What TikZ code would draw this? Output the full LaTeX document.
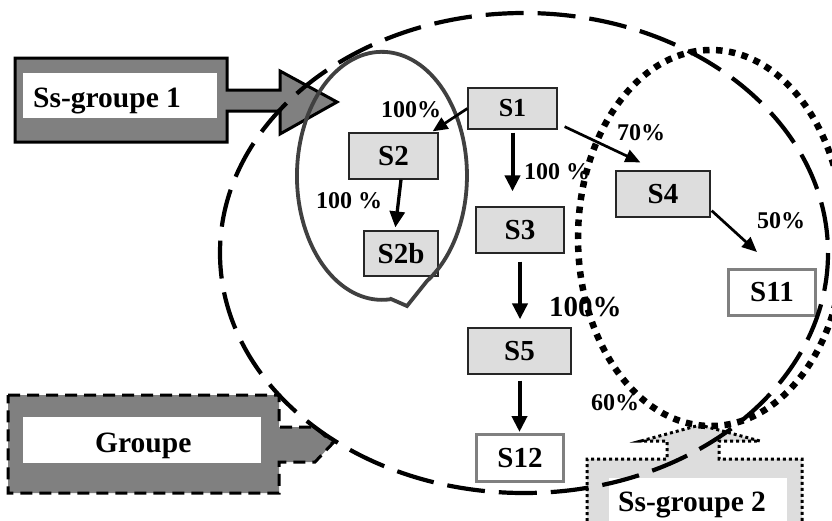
\documentclass[tikz,border=0pt]{standalone}
\usepackage{fontspec}
\setmainfont{Liberation Serif}
\usetikzlibrary{arrows.meta,calc}
\definecolor{boxgray}{HTML}{DDDDDD}
\definecolor{midgray}{HTML}{808080}
\definecolor{ringgray}{HTML}{404040}
\newcommand\labS{\bfseries\fontsize{29}{30}\selectfont}
\newcommand\labSone{\bfseries\fontsize{26}{27}\selectfont}
\newcommand\labP{\bfseries\fontsize{24}{25}\selectfont}
\newcommand\labBig{\bfseries\fontsize{29}{30}\selectfont}
\newcommand\labG{\bfseries\fontsize{29.5}{30}\selectfont}
\begin{document}
\begin{tikzpicture}[x=1pt,y=-1pt,
  sbox/.style={draw=black!85,line width=1.3pt,fill=boxgray,inner sep=0pt,font=\labS},
  wbox/.style={draw=midgray,line width=3pt,fill=white,inner sep=0pt,font=\labS},
  pct/.style={inner sep=0pt,anchor=base west,font=\labP},
  grp/.style={inner sep=0pt,anchor=base west,font=\labG},
  flowthick/.style={line width=4pt,-{Triangle[length=16pt,width=15pt]}},
  flowthin/.style={line width=2.7pt,-{Triangle[length=15pt,width=13pt]}}]
\clip (0,0) rectangle (832,520);
\fill[white] (0,0) rectangle (832,520);

% Ss-groupe 1 callout
\draw[line width=3pt,fill=midgray,miter limit=10]
  (15,58) -- (227,58) -- (227,90) -- (280,90) -- (280,71) -- (337,102)
  -- (280,134) -- (280,111) -- (227,111) -- (227,142) -- (15,142) -- cycle;
\fill[white] (23,73) rectangle (217,118);
\node[grp] (g1) at (33,107) {Ss-groupe 1};

% Groupe callout
\draw[line width=3pt,dash pattern=on 12pt off 7pt,fill=midgray]
  (8,395) -- (279,395) -- (279,427) -- (315,427) -- (333,443) -- (315,462)
  -- (279,462) -- (279,493) -- (8,493) -- cycle;
\fill[white] (23,417) rectangle (261,463);
\node[grp] (g0) at (95,452) {Groupe};

% Ss-groupe 2 callout
\draw[line width=3pt,dash pattern=on 3pt off 3pt,fill=boxgray]
  (587,545) -- (587,459) -- (667,459) -- (667,441) -- (641,441) -- (700,425)
  -- (760,441) -- (719,441) -- (719,459) -- (802,459) -- (802,545);
\fill[white] (609,478) rectangle (787,545);
\node[grp] (g2) at (618,511) {Ss-groupe 2};

% state boxes
\node[sbox,font=\labSone,minimum width=89pt,minimum height=41pt] (S1) at (512.5,108.5) {S1};
\node[sbox,minimum width=89pt,minimum height=46pt] (S2) at (393.5,156) {S2};
\node[sbox,minimum width=74pt,minimum height=45pt] (S2b) at (401,253.5) {S2b};
\node[sbox,minimum width=88pt,minimum height=46pt] (S3) at (520,230) {S3};
\node[sbox,minimum width=94pt,minimum height=46pt] (S4) at (663,194) {S4};
\node[sbox,minimum width=103pt,minimum height=46pt] (S5) at (519.5,351) {S5};
\node[wbox,minimum width=87pt,minimum height=46pt] (S11) at (772,292.5) {S11};
\node[wbox,minimum width=87pt,minimum height=47pt] (S12) at (520,458) {S12};

% group outlines
\draw[ringgray,line width=3.8pt] (391,299) -- (407,306) -- (427,281)
  arc[start angle=58,end angle=-276,x radius=85,y radius=124] -- cycle;
\draw[line width=4.2pt,dash pattern=on 38pt off 14pt] (524,253) ellipse [x radius=304,y radius=240];
\draw[line width=6.5pt,dash pattern=on 6.5pt off 6.5pt] (711,238) ellipse [x radius=133,y radius=188];

% connectors
\draw[flowthin] (S1.west) -- ($(S2.north east)+(-6,-1)$);
\draw[flowthick,shorten <=3pt,shorten >=15pt] (S1.south) -- (S1.south |- S3.north);
\draw[flowthick,line width=3.3pt,shorten >=3pt] ($(S2.south)+(7.5,0)$) -- ($(S2b.north)+(-6,0)$);
\draw[flowthin] ($(S1.south east)+(7,-3)$) -- ($(S4.north west)+(25,-8)$);
\draw[flowthin] ($(S4.south east)+(1,-7)$) -- ($(S11.north)+(-15,-16)$);
\draw[flowthick,shorten <=8pt,shorten >=8pt] (S3.south) -- (S3.south |- S5.north);
\draw[flowthick,shorten <=6pt,shorten >=1pt] (S5.south) -- (S5.south |- S12.north);

% percentages
\node[pct] (p1) at (381,117) {100\%};
\node[pct] (p2) at (316,208) {100 \%};
\node[pct] (p3) at (524,179) {100 \%};
\node[pct] (p4) at (617,140) {70\%};
\node[pct] (p5) at (757,228) {50\%};
\node[pct,font=\labBig] (p6) at (549,316) {100\%};
\node[pct] (p7) at (591,410) {60\%};
\end{tikzpicture}
\end{document}
